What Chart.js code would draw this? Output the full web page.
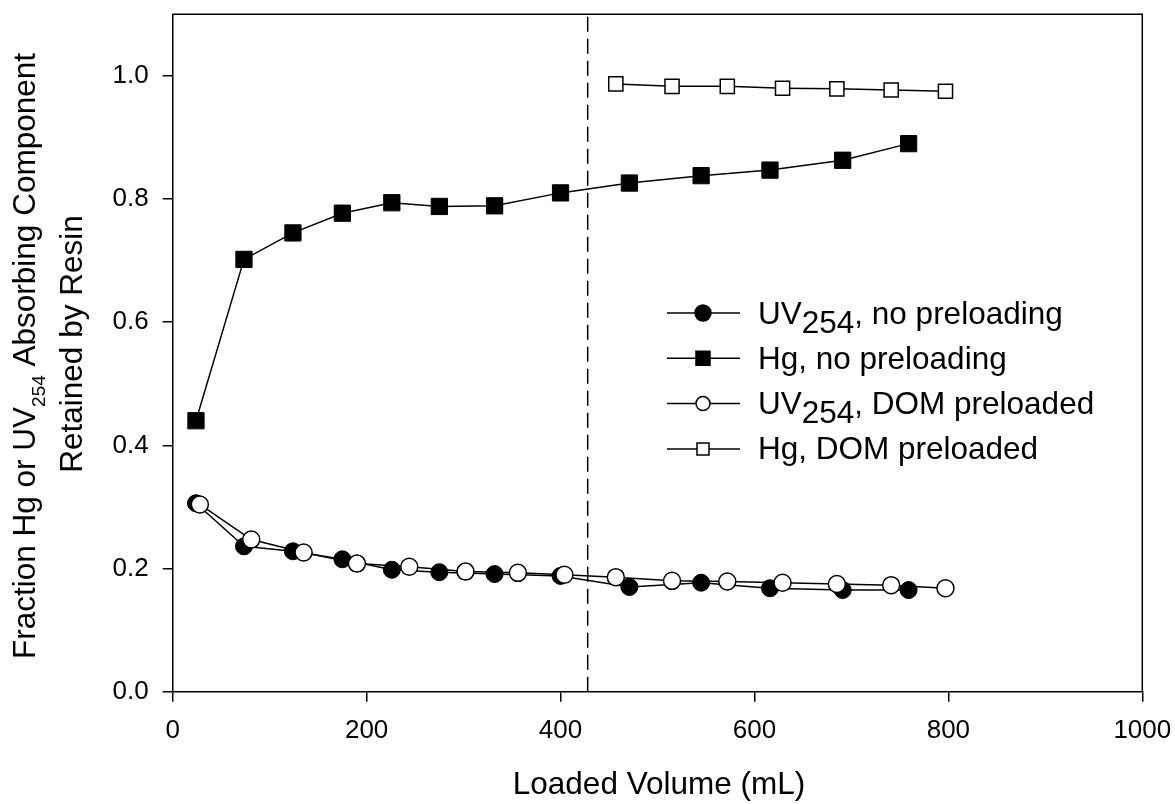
<!DOCTYPE html>
<html>
<head>
<meta charset="utf-8">
<script src="https://cdn.jsdelivr.net/npm/chart.js@4.4.0/dist/chart.umd.min.js"></script>
<style>
  html, body { margin: 0; padding: 0; background: #fff; }
  #wrap { width: 1175px; height: 804px; }
</style>
</head>
<body>
<div id="wrap"><canvas id="grafico" width="1175" height="804"></canvas></div>
<script>
// data
const volHgNo = [24, 73.5, 124, 175, 226, 275, 332, 400, 471, 545, 616, 691, 759];
const hgNo = [0.440, 0.702, 0.745, 0.777, 0.794, 0.788, 0.789, 0.810, 0.826, 0.838, 0.847, 0.863, 0.890];
const volUvNo = [24, 73.5, 124, 175, 226, 275, 332, 400, 471, 545, 616, 691, 759];
const uvNo = [0.306, 0.236, 0.228, 0.215, 0.198, 0.194, 0.191, 0.188, 0.170, 0.177, 0.168, 0.165, 0.165];
const volUvDom = [28, 81, 135, 190, 244, 302, 356, 404, 457, 515, 572, 629, 685, 741, 797];
const uvDom = [0.304, 0.247, 0.226, 0.208, 0.203, 0.195, 0.193, 0.190, 0.186, 0.180, 0.179, 0.177, 0.175, 0.173, 0.168];
const volHgDom = [457, 515, 572, 629, 685, 741, 797];
const hgDom = [0.987, 0.983, 0.983, 0.980, 0.979, 0.977, 0.975];
const dashX = [428, 428];
const dashY = [0, 1.1];

const xTicks = [0, 200, 400, 600, 800, 1000];
const yTicks = [0.0, 0.2, 0.4, 0.6, 0.8, 1.0];

const FONT = "'Liberation Sans', Arial, Helvetica, sans-serif";

function toPoints(xs, ys) {
  return xs.map((x, i) => ({ x: x, y: ys[i] }));
}

// draws text with subscript pieces, left aligned from x
function drawRich(ctx, parts, x, y, size, subSize, subShift) {
  let cx = x;
  parts.forEach((p) => {
    const s = p.sub ? subSize : size;
    ctx.font = s + "px " + FONT;
    ctx.fillText(p.t, cx, p.sub ? y + subShift : y);
    cx += ctx.measureText(p.t).width;
  });
  return cx - x;
}

function richWidth(ctx, parts, size, subSize) {
  let w = 0;
  parts.forEach((p) => {
    ctx.font = (p.sub ? subSize : size) + "px " + FONT;
    w += ctx.measureText(p.t).width;
  });
  return w;
}

const legendItems = [
  { parts: [{ t: "UV" }, { t: "254", sub: true }, { t: ", no preloading" }], shape: "circle", fill: "#000", r: 8 },
  { parts: [{ t: "Hg, no preloading" }], shape: "rect", fill: "#000", r: 7 },
  { parts: [{ t: "UV" }, { t: "254", sub: true }, { t: ", DOM preloaded" }], shape: "circle", fill: "#fff", r: 7 },
  { parts: [{ t: "Hg, DOM preloaded" }], shape: "rect", fill: "#fff", r: 6 },
];

const decorPlugin = {
  id: "decor",
  afterDraw(chart) {
    const ctx = chart.ctx;
    const a = chart.chartArea;
    ctx.save();
    // box around plot
    ctx.strokeStyle = "#000";
    ctx.lineWidth = 1.5;
    ctx.beginPath();
    ctx.moveTo(a.left, a.top);
    ctx.lineTo(a.right, a.top);
    ctx.lineTo(a.right, a.bottom);
    ctx.stroke();

    // legend
    ctx.fillStyle = "#000";
    ctx.textBaseline = "alphabetic";
    ctx.textAlign = "left";
    legendItems.forEach((item, i) => {
      const ly = 313 + i * 45.3;
      ctx.lineWidth = 1.5;
      ctx.strokeStyle = "#000";
      ctx.beginPath();
      ctx.moveTo(667, ly);
      ctx.lineTo(740, ly);
      ctx.stroke();
      ctx.fillStyle = item.fill;
      ctx.beginPath();
      if (item.shape === "circle") {
        ctx.arc(703, ly, item.r, 0, Math.PI * 2);
      } else {
        ctx.rect(703 - item.r, ly - item.r, item.r * 2, item.r * 2);
      }
      ctx.fill();
      ctx.stroke();
      ctx.fillStyle = "#000";
      drawRich(ctx, item.parts, 758, ly + 10.5, 31.5, 31.5, 9);
    });

    // x axis title
    ctx.font = "31.5px " + FONT;
    ctx.textAlign = "center";
    ctx.textBaseline = "middle";
    ctx.fillText("Loaded Volume (mL)", 659, 785);

    // y axis title, two lines, rotated
    ctx.rotate(-Math.PI / 2);
    ctx.textAlign = "left";
    ctx.textBaseline = "alphabetic";
    const line1 = [
      { t: "Fraction Hg or UV" }, { t: "254", sub: true },
      { t: " Absorbing Component" },
    ];
    const w1 = richWidth(ctx, line1, 31.5, 19);
    drawRich(ctx, line1, -356 - w1 / 2, 35, 31.5, 19, 10);
    ctx.font = "31.5px " + FONT;
    ctx.textAlign = "center";
    ctx.fillText("Retained by Resin", -344, 82);
    ctx.restore();
  },
};

const ctx = document.getElementById("grafico").getContext("2d");

new Chart(ctx, {
  type: "scatter",
  data: {
    datasets: [
      {
        label: "UV254, DOM preloaded",
        data: toPoints(volUvDom, uvDom),
        showLine: true,
        borderColor: "#000",
        borderWidth: 1.5,
        pointStyle: "circle",
        pointRadius: 8.5,
        pointBorderWidth: 1.5,
        pointBackgroundColor: "#fff",
        pointBorderColor: "#000",
        order: 0,
      },
      {
        label: "UV254, no preloading",
        data: toPoints(volUvNo, uvNo),
        showLine: true,
        borderColor: "#000",
        borderWidth: 1.5,
        pointStyle: "circle",
        pointRadius: 8.5,
        pointBorderWidth: 1,
        pointBackgroundColor: "#000",
        pointBorderColor: "#000",
        order: 1,
      },
      {
        label: "Hg, no preloading",
        data: toPoints(volHgNo, hgNo),
        showLine: true,
        borderColor: "#000",
        borderWidth: 1.5,
        pointStyle: "rect",
        pointRadius: 11.5,
        pointBorderWidth: 1,
        pointBackgroundColor: "#000",
        pointBorderColor: "#000",
        order: 2,
      },
      {
        label: "Hg, DOM preloaded",
        data: toPoints(volHgDom, hgDom),
        showLine: true,
        borderColor: "#000",
        borderWidth: 1.5,
        pointStyle: "rect",
        pointRadius: 10,
        pointBorderWidth: 1.5,
        pointBackgroundColor: "#fff",
        pointBorderColor: "#000",
        order: 3,
      },
      {
        label: "dashed",
        data: toPoints(dashX, dashY),
        showLine: true,
        borderColor: "#000",
        borderWidth: 1.5,
        borderDash: [15, 7],
        pointRadius: 0,
        order: 4,
      },
    ],
  },
  options: {
    responsive: false,
    animation: false,
    layout: {
      padding: 0,
    },
    plugins: {
      legend: { display: false },
      title: { display: false },
      tooltip: { enabled: false },
    },
    scales: {
      x: {
        type: "linear",
        min: 0,
        max: 1000,
        afterBuildTicks: (axis) => {
          axis.ticks = xTicks.map((v) => ({ value: v }));
        },
        afterFit: (axis) => {
          axis.height = 804 - 691.7;
          axis.paddingLeft = 0;
          axis.paddingRight = 1175 - 1142.3;
          axis.paddingTop = 0;
          axis.paddingBottom = 0;
        },
        grid: {
          drawOnChartArea: false,
          drawTicks: true,
          tickLength: 10,
          color: "#000",
          lineWidth: 1.5,
        },
        border: { display: true, color: "#000", width: 1.5 },
        ticks: {
          color: "#000",
          font: { family: FONT, size: 26 },
          padding: 14,
          maxRotation: 0,
          callback: (v) => String(v),
        },
      },
      y: {
        type: "linear",
        min: 0,
        max: 1.1,
        afterBuildTicks: (axis) => {
          axis.ticks = yTicks.map((v) => ({ value: v }));
        },
        afterFit: (axis) => {
          axis.width = 172.7;
          axis.paddingTop = 14.3;
          axis.paddingBottom = 0;
          axis.paddingLeft = 0;
          axis.paddingRight = 0;
        },
        grid: {
          drawOnChartArea: false,
          drawTicks: true,
          tickLength: 10,
          color: "#000",
          lineWidth: 1.5,
        },
        border: { display: true, color: "#000", width: 1.5 },
        ticks: {
          color: "#000",
          font: { family: FONT, size: 26 },
          padding: 14,
          callback: (v) => Number(v).toFixed(1),
        },
      },
    },
  },
  plugins: [decorPlugin],
});
</script>
</body>
</html>
